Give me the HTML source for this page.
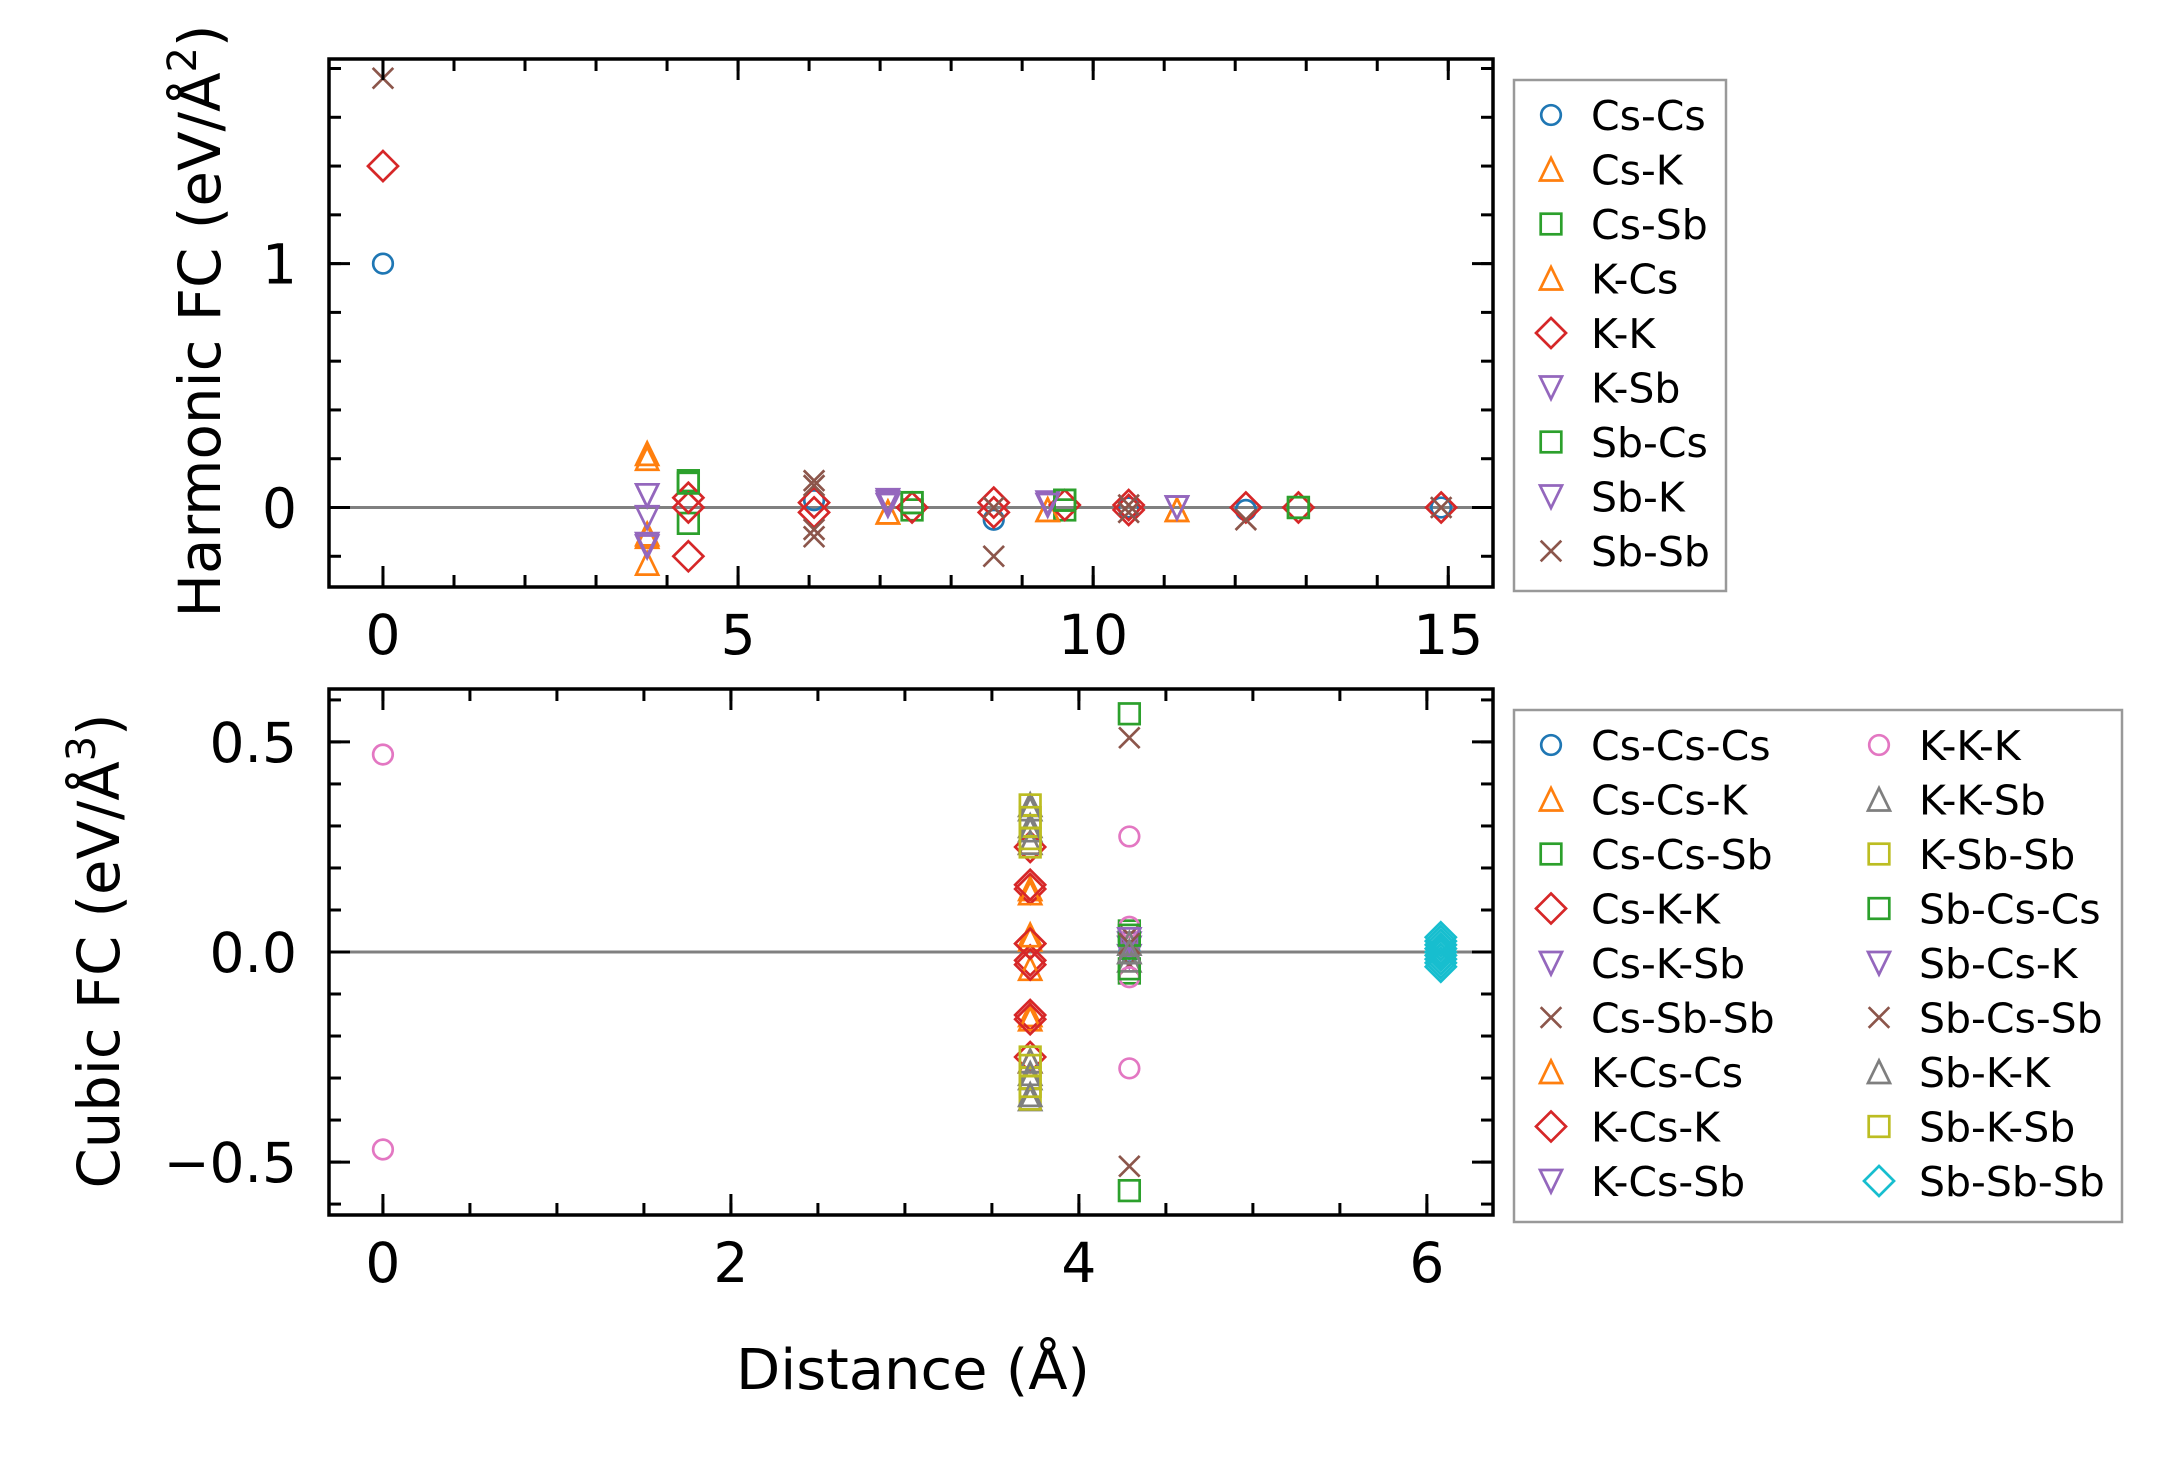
<!DOCTYPE html>
<html><head><meta charset="utf-8"><style>
html,body{margin:0;padding:0;background:#fff;}
svg{display:block;font-family:"DejaVu Sans","Liberation Sans",sans-serif;}
</style></head><body>
<svg id="fig" width="2182" height="1460" viewBox="0 0 2182 1460" xmlns="http://www.w3.org/2000/svg">
<rect x="0" y="0" width="2182" height="1460" fill="#fff"/>
<g id="top"></g>
<g id="bot"></g>
<text transform="translate(220,321) rotate(-90)" text-anchor="middle" font-size="58" textLength="593" lengthAdjust="spacingAndGlyphs">Harmonic FC (eV/Å<tspan font-size="40" dy="-24">2</tspan><tspan dy="24">)</tspan></text>
<text transform="translate(119,951) rotate(-90)" text-anchor="middle" font-size="58" textLength="475" lengthAdjust="spacingAndGlyphs">Cubic FC (eV/Å<tspan font-size="40" dy="-24">3</tspan><tspan dy="24">)</tspan></text>
<text x="913" y="1389" text-anchor="middle" font-size="56" textLength="354" lengthAdjust="spacingAndGlyphs">Distance (Å)</text>
</svg>
<script>
// ---------- Harmonic data ----------
const csCsX=[0,6.07,8.6,10.5,12.15,14.9];            const csCsY=[1.0,0.03,-0.05,0,-0.01,0];
const csKX=[3.72,3.72,3.72,7.11,9.36,11.18];         const csKY=[0.22,-0.11,-0.23,-0.02,-0.01,-0.01];
const csSbX=[4.3,4.3,7.45,7.45,9.6,9.6,12.89];       const csSbY=[0.11,-0.065,0.02,-0.01,0.03,-0.01,0];
const kCsX=[3.72,3.72,7.11,9.36,11.18];              const kCsY=[0.2,-0.12,-0.02,-0.01,-0.01];
const kKX=[0,4.3,4.3,4.3,6.07,6.07,7.45,8.6,8.6,9.6,10.5,10.5,12.15,12.89,14.9];
const kKY=[1.4,0.04,0,-0.2,0.02,-0.02,0,0.02,-0.02,0.01,0.01,-0.01,0,0,0];
const kSbX=[3.72,3.72,3.72,7.11,7.11,9.36,11.18];    const kSbY=[0.05,-0.04,-0.16,0.03,0.01,0.02,0.0];
const sbCsX=[4.3,7.45,9.6,12.89];                    const sbCsY=[0.1,0.02,0.03,0];
const sbKX=[3.72,3.72,7.11,9.36,11.18];              const sbKY=[0.05,-0.15,0.02,0.01,0];
const sbSbX=[0,6.07,6.07,6.07,6.07,8.6,8.6,10.5,10.5,12.15,14.9];
const sbSbY=[1.76,0.11,0.09,-0.09,-0.12,-0.2,0,0.01,-0.02,-0.05,0];
// ---------- Cubic data ----------
const cCsCsCsX=[4.29]; const cCsCsCsY=[0];
const cCsCsKX=[3.72,3.72,3.72,3.72]; const cCsCsKY=[0.15,0.03,-0.15,-0.26];
const cCsCsSbX=[4.29,4.29]; const cCsCsSbY=[0.05,-0.05];
const cCsKKX=[3.72,3.72,3.72,3.72,3.72,3.72]; const cCsKKY=[0.25,0.15,0.02,-0.02,-0.15,-0.25];
const cCsKSbX=[4.29,4.29]; const cCsKSbY=[0.02,-0.01];
const cCsSbSbX=[4.29,4.29]; const cCsSbSbY=[0.04,-0.03];
const cKCsCsX=[3.72,3.72,3.72,3.72,3.72,3.72]; const cKCsCsY=[0.26,0.14,0.04,-0.04,-0.16,-0.26];
const cKCsKX=[3.72,3.72,3.72,3.72]; const cKCsKY=[0.16,0.02,-0.03,-0.16];
const cKCsSbX=[4.29]; const cKCsSbY=[0.01];
const cKKKX=[0,0,4.29,4.29,4.29,4.29]; const cKKKY=[0.47,-0.47,0.275,-0.277,0.06,-0.06];
const cKKSbX=[3.72,3.72,3.72,3.72,3.72,3.72,4.29,4.29,4.29]; const cKKSbY=[0.35,0.30,0.26,-0.26,-0.30,-0.35,0.02,-0.02,0];
const cKSbSbX=[3.72,3.72,3.72,3.72,3.72,3.72]; const cKSbSbY=[0.35,0.30,0.25,-0.25,-0.30,-0.35];
const cSbCsCsX=[4.29,4.29,4.29,4.29]; const cSbCsCsY=[0.567,-0.568,0.04,-0.04];
const cSbCsKX=[4.29]; const cSbCsKY=[0.03];
const cSbCsSbX=[4.29,4.29,4.29]; const cSbCsSbY=[0.51,-0.51,0.02];
const cSbKKX=[3.72,3.72,3.72,3.72,4.29]; const cSbKKY=[0.34,0.29,-0.29,-0.34,0];
const cSbKSbX=[3.72,3.72,3.72,3.72]; const cSbKSbY=[0.32,0.27,-0.27,-0.32];
const cSbSbSbX=[6.08,6.08,6.08,6.08,6.08,6.08,6.08,6.08,6.08]; const cSbSbSbY=[0.035,0.026,0.017,0.008,0,-0.008,-0.017,-0.026,-0.035];
// ---------- ticks ----------
const topXTicks=[0,5,10,15]; const topYTicks=[0,1];
const botXTicks=[0,2,4,6]; const botYTicks=[-0.5,0,0.5]; const botYTickLabels=["\u22120.5","0.0","0.5"];

const NS="http://www.w3.org/2000/svg";
function el(tag,attrs,parent){const e=document.createElementNS(NS,tag);for(const k in attrs)e.setAttribute(k,attrs[k]);parent.appendChild(e);return e;}
const C={blue:"#1f77b4",orange:"#ff7f0e",green:"#2ca02c",red:"#d62728",purple:"#9467bd",brown:"#8c564b",pink:"#e377c2",gray:"#7f7f7f",olive:"#bcbd22",cyan:"#17becf"};

function marker(g,type,color,cx,cy){
  const a={fill:"none",stroke:color,"stroke-width":2.7};
  let m;
  if(type==="o") m=el("circle",Object.assign({cx:cx,cy:cy,r:9.8},a),g);
  else if(type==="s") m=el("rect",Object.assign({x:cx-10.3,y:cy-10.3,width:20.6,height:20.6},a),g);
  else if(type==="^") m=el("polygon",Object.assign({points:`${cx},${cy-11.5} ${cx+11},${cy+11} ${cx-11},${cy+11}`},a),g);
  else if(type==="v") m=el("polygon",Object.assign({points:`${cx},${cy+11.5} ${cx+11},${cy-11} ${cx-11},${cy-11}`},a),g);
  else if(type==="D") m=el("polygon",Object.assign({points:`${cx},${cy-15} ${cx+15},${cy} ${cx},${cy+15} ${cx-15},${cy}`},a),g);
  else if(type==="x") m=el("path",Object.assign({d:`M${cx-10.3},${cy-10.3}L${cx+10.3},${cy+10.3}M${cx-10.3},${cy+10.3}L${cx+10.3},${cy-10.3}`},a),g);
  return m;
}

function panel(g,box,xr,yr,xMaj,xMin,yMaj,yMin,xLab,yLab,series,legend){
  const X=v=>box.x0+(v-xr[0])/(xr[1]-xr[0])*(box.x1-box.x0);
  const Y=v=>box.y1-(v-yr[0])/(yr[1]-yr[0])*(box.y1-box.y0);
  const zl=el("line",{x1:box.x0,x2:box.x1,y1:Y(0),y2:Y(0),stroke:"#808080","stroke-width":3},g);
  
  
  series.forEach(s=>{
    const sg=el("g",{},g);
    
    
    s.xs.forEach((xv,i)=>{const m=marker(sg,s.m,s.c,X(xv),Y(s.ys[i]));
      
      });
  });
  const tg=el("g",{stroke:"#000","stroke-width":3},g);
  
  
  const tick=(x1,y1,x2,y2)=>el("line",{x1,y1,x2,y2},tg);
  xMin.forEach(v=>{const x=X(v);tick(x,box.y1,x,box.y1-12);tick(x,box.y0,x,box.y0+12);});
  xMaj.forEach(v=>{const x=X(v);tick(x,box.y1,x,box.y1-21);tick(x,box.y0,x,box.y0+21);});
  yMin.forEach(v=>{const y=Y(v);tick(box.x0,y,box.x0+12,y);tick(box.x1,y,box.x1-12,y);});
  yMaj.forEach(v=>{const y=Y(v);tick(box.x0,y,box.x0+21,y);tick(box.x1,y,box.x1-21,y);});
  const fr=el("rect",{x:box.x0,y:box.y0,width:box.x1-box.x0,height:box.y1-box.y0,fill:"none",stroke:"#000","stroke-width":3.5},g);
  
  
  xMaj.forEach((v,i)=>{const t=el("text",{x:X(v),y:box.y1+67,"text-anchor":"middle","font-size":55},g);t.textContent=xLab[i];
    
    });
  yMaj.forEach((v,i)=>{const t=el("text",{x:297,y:Y(v)+20,"text-anchor":"end","font-size":55},g);t.textContent=yLab[i];
    
    });
  const lg=el("g",{},g);
  
  
  const lb=el("rect",{x:legend.x0,y:legend.y0,width:legend.w,height:legend.h,fill:"#fff",stroke:"#999","stroke-width":2.5},lg);
  
  
  series.forEach((s,i)=>{
    const col=Math.floor(i/9),row=i%9;
    const mx=legend.mx[col],cy=legend.cy0+row*54.5;
    const e=el("g",{},lg);
    
    
    marker(e,s.m,s.c,mx,cy);
    const t=el("text",{x:mx+40,y:cy+15,"font-size":41},e);t.textContent=s.name;
  });
}

const range=(a,b,st)=>{const r=[];for(let v=a;v<=b+1e-9;v+=st)r.push(Math.round(v*1000)/1000);return r;};

panel(document.getElementById("top"),{x0:329,x1:1493,y0:59,y1:587},[-0.76,15.63],[-0.326,1.839],
  topXTicks,range(0,15,1),topYTicks,range(-0.2,1.8,0.2),topXTicks.map(String),topYTicks.map(String),[
  {name:"Cs-Cs",m:"o",c:C.blue,xs:csCsX,ys:csCsY},
  {name:"Cs-K",m:"^",c:C.orange,xs:csKX,ys:csKY},
  {name:"Cs-Sb",m:"s",c:C.green,xs:csSbX,ys:csSbY},
  {name:"K-Cs",m:"^",c:C.orange,xs:kCsX,ys:kCsY},
  {name:"K-K",m:"D",c:C.red,xs:kKX,ys:kKY},
  {name:"K-Sb",m:"v",c:C.purple,xs:kSbX,ys:kSbY},
  {name:"Sb-Cs",m:"s",c:C.green,xs:sbCsX,ys:sbCsY},
  {name:"Sb-K",m:"v",c:C.purple,xs:sbKX,ys:sbKY},
  {name:"Sb-Sb",m:"x",c:C.brown,xs:sbSbX,ys:sbSbY}],
  {x0:1514,y0:80,w:212,h:511,mx:[1551],cy0:115});

panel(document.getElementById("bot"),{x0:329,x1:1493,y0:689,y1:1215},[-0.31,6.38],[-0.626,0.626],
  botXTicks,range(0,6,0.5),botYTicks,range(-0.6,0.6,0.1),botXTicks.map(String),botYTickLabels,[
  {name:"Cs-Cs-Cs",m:"o",c:C.blue,xs:cCsCsCsX,ys:cCsCsCsY},
  {name:"Cs-Cs-K",m:"^",c:C.orange,xs:cCsCsKX,ys:cCsCsKY},
  {name:"Cs-Cs-Sb",m:"s",c:C.green,xs:cCsCsSbX,ys:cCsCsSbY},
  {name:"Cs-K-K",m:"D",c:C.red,xs:cCsKKX,ys:cCsKKY},
  {name:"Cs-K-Sb",m:"v",c:C.purple,xs:cCsKSbX,ys:cCsKSbY},
  {name:"Cs-Sb-Sb",m:"x",c:C.brown,xs:cCsSbSbX,ys:cCsSbSbY},
  {name:"K-Cs-Cs",m:"^",c:C.orange,xs:cKCsCsX,ys:cKCsCsY},
  {name:"K-Cs-K",m:"D",c:C.red,xs:cKCsKX,ys:cKCsKY},
  {name:"K-Cs-Sb",m:"v",c:C.purple,xs:cKCsSbX,ys:cKCsSbY},
  {name:"K-K-K",m:"o",c:C.pink,xs:cKKKX,ys:cKKKY},
  {name:"K-K-Sb",m:"^",c:C.gray,xs:cKKSbX,ys:cKKSbY},
  {name:"K-Sb-Sb",m:"s",c:C.olive,xs:cKSbSbX,ys:cKSbSbY},
  {name:"Sb-Cs-Cs",m:"s",c:C.green,xs:cSbCsCsX,ys:cSbCsCsY},
  {name:"Sb-Cs-K",m:"v",c:C.purple,xs:cSbCsKX,ys:cSbCsKY},
  {name:"Sb-Cs-Sb",m:"x",c:C.brown,xs:cSbCsSbX,ys:cSbCsSbY},
  {name:"Sb-K-K",m:"^",c:C.gray,xs:cSbKKX,ys:cSbKKY},
  {name:"Sb-K-Sb",m:"s",c:C.olive,xs:cSbKSbX,ys:cSbKSbY},
  {name:"Sb-Sb-Sb",m:"D",c:C.cyan,xs:cSbSbSbX,ys:cSbSbSbY}],
  {x0:1514,y0:710,w:608,h:512,mx:[1551,1879],cy0:745});
</script>
</body></html>
